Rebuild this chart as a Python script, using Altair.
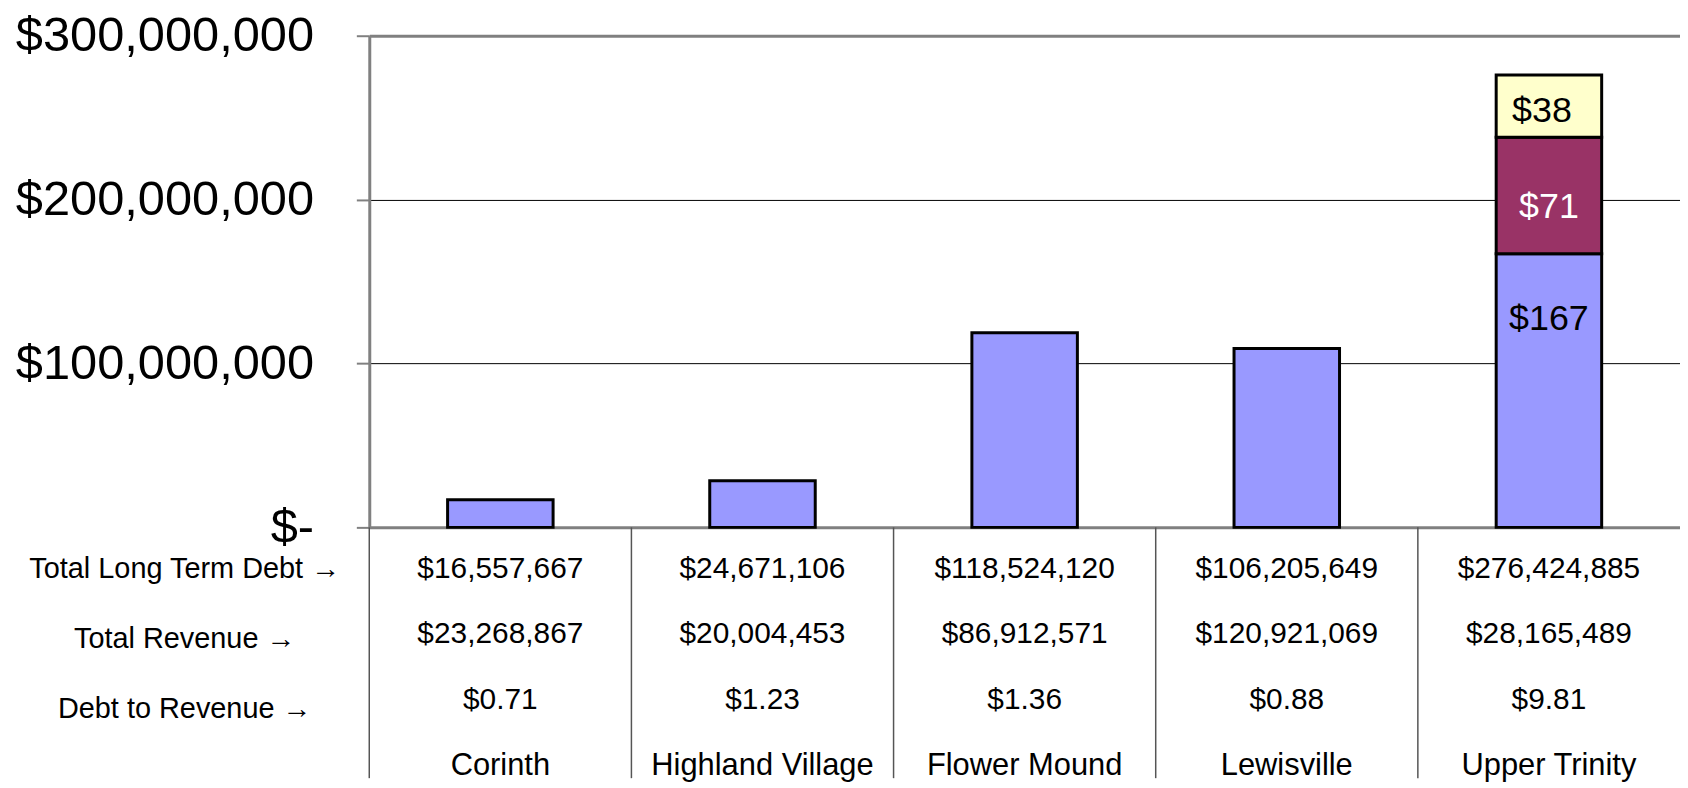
import altair as alt
import pandas as pd

FONT = "Liberation Sans"

# ---- data ----
categories = ["Corinth", "Highland Village", "Flower Mound", "Lewisville", "Upper Trinity"]
series_names = ["Series 1", "Series 2", "Series 3"]
series_colors = ["#9999FF", "#993366", "#FFFFCC"]
# bar segment heights in $ millions
series1_m = [16.8, 28.5, 118.7, 109.2, 167]
series2_m = [0, 0, 0, 0, 71]
series3_m = [0, 0, 0, 0, 38]
labelled_categories = ["Upper Trinity"]

total_long_term_debt = [16557667, 24671106, 118524120, 106205649, 276424885]
total_revenue = [23268867, 20004453, 86912571, 120921069, 28165489]
debt_to_revenue = [0.71, 1.23, 1.36, 0.88, 9.81]
row_labels = ["Total Long Term Debt \u2192", "Total Revenue \u2192", "Debt to Revenue \u2192"]
row_keys = ["debt", "revenue", "ratio", "name"]
y_ticks = [0, 100000000, 200000000, 300000000]

# ---- tables ----
bar_rows = []
for si, (name, vals) in enumerate(zip(series_names, [series1_m, series2_m, series3_m])):
    for cat, v in zip(categories, vals):
        if v > 0:
            bar_rows.append({"category": cat, "series": name, "order": si,
                             "value": v * 1_000_000, "label": f"${round(v)}"})
bars_df = pd.DataFrame(bar_rows)

table_rows = []
for cat, d, r, q in zip(categories, total_long_term_debt, total_revenue, debt_to_revenue):
    table_rows.append({"category": cat, "row": "debt", "text": f"${d:,}"})
    table_rows.append({"category": cat, "row": "revenue", "text": f"${r:,}"})
    table_rows.append({"category": cat, "row": "ratio", "text": f"${q:.2f}"})
table_df = pd.DataFrame(table_rows)
names_df = pd.DataFrame({"category": categories, "row": "name", "text": categories})
rowlab_df = pd.DataFrame({"label": row_labels})
cat_df = pd.DataFrame({"category": categories})

W = 1317
x_scale = alt.Scale(type="band", domain=categories, paddingInner=0, paddingOuter=0)
y_scale = alt.Scale(domain=[0, 300000000], nice=False)

border_test = "datum.value == 0 || datum.value == 300000000"
y_axis = alt.Axis(
    values=y_ticks,
    labelExpr="datum.value == 0 ? '$-' : '$' + format(datum.value, ',')",
    labelFont=FONT, labelFontSize=49, labelColor="black", labelPadding=43, labelLimit=0,
    tickSize=13, tickColor="#808080", tickWidth=2,
    domainColor="#808080", domainWidth=3,
    grid=True,
    gridColor=alt.condition(border_test, alt.value("#808080"), alt.value("black")),
    gridWidth=alt.condition(border_test, alt.value(3), alt.value(1)),
    title=None,
)

bars = alt.Chart(bars_df).mark_bar(size=106, stroke="black", strokeWidth=3).encode(
    x=alt.X("category:N", sort=categories, scale=x_scale, axis=None),
    y=alt.Y("value:Q", stack="zero", scale=y_scale, axis=y_axis),
    color=alt.Color("series:N", scale=alt.Scale(domain=series_names, range=series_colors), legend=None),
    order=alt.Order("order:Q"),
)

lab_base = alt.Chart(bars_df).transform_stack(
    stack="value", groupby=["category"], as_=["v0", "v1"], sort=[alt.SortField("order")]
).transform_calculate(mid="(datum.v0 + datum.v1) / 2").transform_filter(
    alt.FieldOneOfPredicate(field="category", oneOf=labelled_categories)
)


def seg_label(series, field, dy, dx, color):
    return lab_base.transform_filter(f"datum.series == '{series}'").mark_text(
        font=FONT, fontSize=36, color=color, dy=dy, dx=dx, baseline="middle"
    ).encode(
        x=alt.X("category:N", sort=categories, scale=x_scale, axis=None),
        y=alt.Y(f"{field}:Q", scale=y_scale, axis=y_axis),
        text="label:N",
    )


lab3 = seg_label("Series 3", "mid", 5, -7, "black")
lab2 = seg_label("Series 2", "mid", 12, 0, "white")
lab1 = seg_label("Series 1", "v1", 66, 0, "black")

top = alt.layer(bars, lab1, lab2, lab3).properties(width=W, height=494)

# ---- table under the plot ----
row_scale = alt.Scale(type="point", domain=row_keys, range=[41.5, 240], padding=0)

separators = alt.Chart(cat_df).mark_rule(color="#555555", strokeWidth=1.5).encode(
    x=alt.X("category:N", sort=categories, scale=x_scale, bandPosition=0, axis=None),
)

table_text = alt.Chart(table_df).mark_text(font=FONT, fontSize=30, color="black", baseline="middle").encode(
    x=alt.X("category:N", sort=categories, scale=x_scale, axis=None),
    y=alt.Y("row:N", scale=row_scale, axis=None),
    text="text:N",
)

names_text = alt.Chart(names_df).mark_text(font=FONT, fontSize=31, color="black", baseline="middle").encode(
    x=alt.X("category:N", sort=categories, scale=x_scale, axis=None),
    y=alt.Y("row:N", scale=row_scale, axis=None),
    text="text:N",
)

row_axis = alt.Chart(rowlab_df).mark_text(font=FONT, fontSize=29).encode(
    y=alt.Y("label:N", scale=alt.Scale(type="point", domain=row_labels, range=[41.5, 182.5], padding=0),
            axis=alt.Axis(labelFont=FONT, labelFontSize=29, labelColor="black", labelAlign="center",
                          labelPadding=186, labelLimit=0, ticks=False, tickSize=0, domain=False,
                          grid=False, title=None)),
    text=alt.value(""),
)

bottom = alt.layer(separators, table_text, names_text, row_axis).resolve_scale(
    y="independent"
).properties(width=W, height=252)

chart = alt.vconcat(top, bottom, spacing=0, bounds="flush").properties(
    padding={"left": 7, "top": 2, "right": 0, "bottom": 0},
    background="white",
).configure_view(stroke=None)

chart.save("out.html", embed_options={"renderer": "svg", "actions": False})
